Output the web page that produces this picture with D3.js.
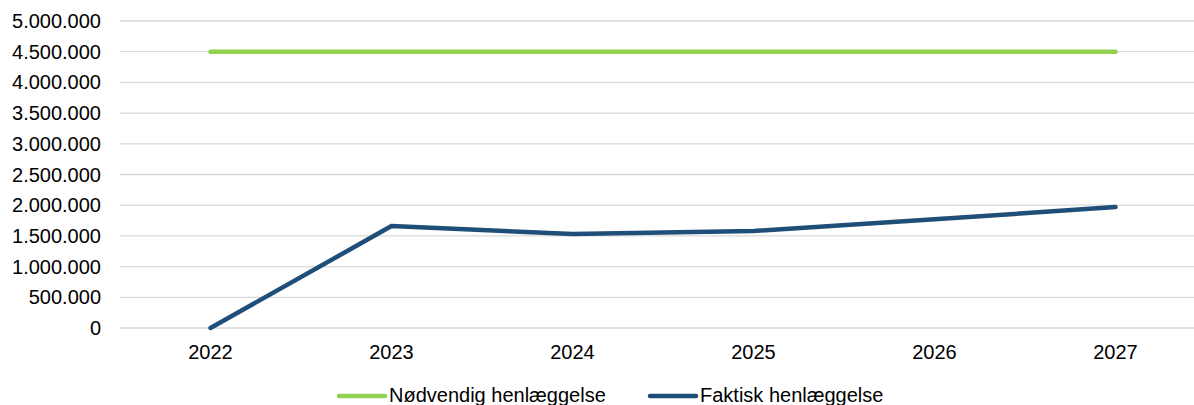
<html>
<head>
<meta charset="utf-8">
<script src="https://d3js.org/d3.v7.min.js"></script>
<style>
  body { margin: 0; background: #fff; }
  text { font-family: "Liberation Sans", Arial, sans-serif; fill: #000; }
</style>
</head>
<body>
<div id="chart"></div>
<script>
  // data
  const years = ["2022", "2023", "2024", "2025", "2026", "2027"];
  const noedvendig = [4500000, 4500000, 4500000, 4500000, 4500000, 4500000];
  const faktisk = [0, 1660000, 1530000, 1580000, 1770000, 1970000];
  const yTicks = [0, 500000, 1000000, 1500000, 2000000, 2500000, 3000000, 3500000, 4000000, 4500000, 5000000];

  const width = 1194, height = 405;
  const plotLeft = 120, plotRight = 1206, plotTop = 21, plotBottom = 328;

  const svg = d3.select("#chart").append("svg")
    .attr("width", width)
    .attr("height", height);

  const x = d3.scalePoint().domain(years).range([plotLeft, plotRight]).padding(0.5);
  const y = d3.scaleLinear().domain([0, 5000000]).range([plotBottom, plotTop]);

  const fmt = v => d3.format(",")(v).replace(/,/g, ".");

  // gridlines
  svg.append("g")
    .selectAll("line")
    .data(yTicks)
    .join("line")
      .attr("x1", plotLeft).attr("x2", plotRight)
      .attr("y1", d => y(d)).attr("y2", d => y(d))
      .style("stroke", "#d9d9d9")
      .style("stroke-width", 1.3);

  // y labels
  svg.append("g")
    .selectAll("text")
    .data(yTicks)
    .join("text")
      .attr("x", 101)
      .attr("y", d => y(d))
      .attr("dy", "0.35em")
      .attr("text-anchor", "end")
      .style("font-size", "20px")
      .text(fmt);

  // x labels
  svg.append("g")
    .selectAll("text")
    .data(years)
    .join("text")
      .attr("x", d => x(d))
      .attr("y", 359)
      .attr("text-anchor", "middle")
      .style("font-size", "20px")
      .text(d => d);

  const line = d3.line()
    .x((d, i) => x(years[i]))
    .y(d => y(d));

  const series = [
    { name: "Nødvendig henlæggelse", values: noedvendig, color: "#92d050" },
    { name: "Faktisk henlæggelse", values: faktisk, color: "#1f4e79" }
  ];

  svg.append("g")
    .selectAll("path")
    .data(series)
    .join("path")
      .attr("d", d => line(d.values))
      .style("fill", "none")
      .style("stroke", d => d.color)
      .style("stroke-width", 4.5)
      .style("stroke-linecap", "round")
      .style("stroke-linejoin", "round");

  // legend
  const legendX = [339, 650];
  const legend = svg.append("g")
    .selectAll("g")
    .data(series)
    .join("g")
      .attr("transform", (d, i) => `translate(${legendX[i]},396)`);
  legend.append("line")
    .attr("x1", 0).attr("x2", 46)
    .style("stroke", d => d.color)
    .style("stroke-width", 4.5)
    .style("stroke-linecap", "round");
  legend.append("text")
    .attr("x", 50)
    .attr("y", 6)
    .style("font-size", "20px")
    .text(d => d.name);
</script>
</body>
</html>
